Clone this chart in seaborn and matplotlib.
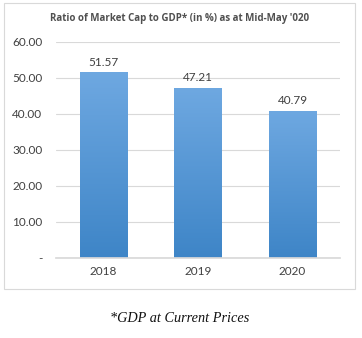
import matplotlib
matplotlib.use("Agg")
import matplotlib.pyplot as plt
import seaborn as sns
import numpy as np
import pandas as pd
from matplotlib.patches import Rectangle
from matplotlib.colors import LinearSegmentedColormap

years = ["2018", "2019", "2020"]
ratios = [51.57, 47.21, 40.79]
yticks = [0, 10, 20, 30, 40, 50, 60]
title = "Ratio of Market Cap to GDP* (in %) as at Mid-May '020"
footnote = "*GDP at Current Prices"

sns.set_theme(style="white")
plt.rcParams['font.family'] = ['Lato', 'DejaVu Sans']

fig = plt.figure(figsize=(3.62, 3.38), dpi=100)
ax = fig.add_axes([0.155, 0.237, 0.784, 0.639])

df = pd.DataFrame({"year": years, "ratio": ratios})
sns.barplot(data=df, x="year", y="ratio", ax=ax, color="#5B9BD5", width=0.5,
            saturation=1, edgecolor="none")

cmap = LinearSegmentedColormap.from_list("g", ["#3E85C7", "#6EA8E1"])
grad = np.linspace(0, 1, 256).reshape(-1, 1)
for p in ax.patches:
    x0, y0 = p.get_x(), p.get_y()
    w, h = p.get_width(), p.get_height()
    im = ax.imshow(grad, cmap=cmap, origin="lower", aspect="auto",
                   extent=[x0, x0 + w, y0, y0 + h], zorder=p.get_zorder() + 0.1)
    im.set_clip_path(p)

ax.set_xlim(-0.5, 2.5)
ax.set_ylim(0, 60)
ax.set_yticks(yticks)
ax.set_yticklabels(["-" if v == 0 else f"{v:.2f}" for v in yticks])
ax.grid(axis="y", color="#D9D9D9", linewidth=0.8)
ax.set_axisbelow(True)
for s in ["left", "right", "top"]:
    ax.spines[s].set_visible(False)
ax.spines["bottom"].set_color("#D9D9D9")
ax.tick_params(axis="both", length=0, labelsize=8.5, colors="#404040")
ax.tick_params(axis="y", pad=10)
ax.tick_params(axis="x", pad=6)
ax.set_xlabel("")
ax.set_ylabel("")

for i, v in enumerate(ratios):
    ax.text(i, v + 1.3, f"{v:.2f}", ha="center", va="bottom", fontsize=8.5, color="#404040")

fig.text(0.497, 1 - 19 / 338, title, ha="center", va="center", fontsize=7.0,
         fontweight="bold", family=["Open Sans", "DejaVu Sans"], color="#505050")
fig.text(0.497, 1 - 318 / 338, footnote, ha="center", va="center", fontsize=10.3,
         style="italic", family=["Liberation Serif", "DejaVu Serif"], color="#111111")

fig.patches.append(Rectangle((4 / 362, 1 - 289 / 338), 351 / 362, 286 / 338,
                             transform=fig.transFigure, fill=False,
                             edgecolor="#D9D9D9", linewidth=0.8))

fig.savefig("out.png", dpi=100)
